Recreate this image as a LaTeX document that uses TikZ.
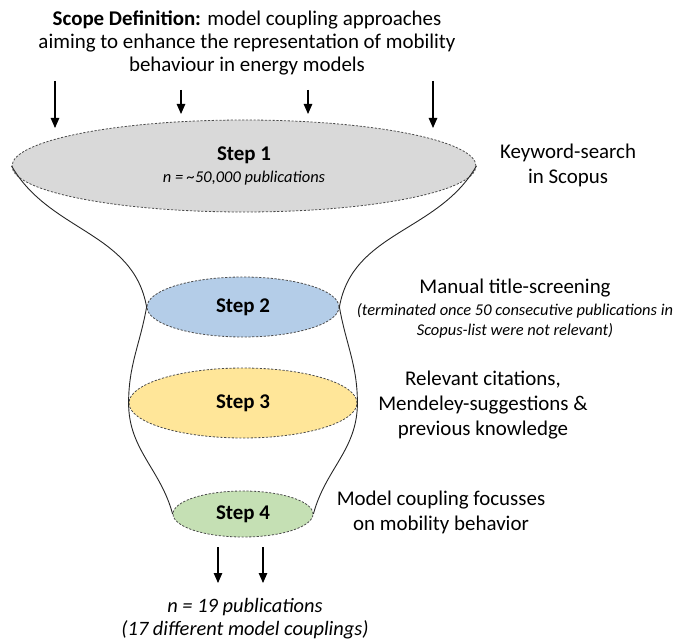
\documentclass[tikz,border=0pt]{standalone}
\usepackage{fontspec}
\setmainfont{Carlito}
\usepackage{xcolor}
\usepackage{tikz}
\usetikzlibrary{arrows.meta,shapes.geometric}

\definecolor{stepgrey}{HTML}{D9D9D9}
\definecolor{stepblue}{HTML}{B4CDE8}
\definecolor{stepgold}{HTML}{FFE699}
\definecolor{stepgreen}{HTML}{C5E0B4}

\begin{document}
\begin{tikzpicture}[
    x=1bp, y=1bp,
    stepdisc/.style={ellipse, draw=black!70, dash pattern=on 2.2bp off 1.6bp,
        line width=0.8bp, inner sep=0pt},
    funnel/.style={draw=black!85, line width=0.9bp},
    down/.style={-{Triangle[width=8.5bp,length=10bp]}, line width=1.1bp},
    every node/.style={font=\fontsize{21}{25}\selectfont, align=center}
]
    \useasboundingbox (0,0) rectangle (679,-641);

    \node[font=\fontsize{21}{23.5}\selectfont] (scope) at (247,-43)
        {\textbf{Scope Definition:} model coupling approaches\\
         aiming to enhance the representation of mobility\\
         behaviour in energy models};

    % the four filter stages
    \node[stepdisc, fill=stepgrey, minimum width=464bp, minimum height=92bp] (s1) at (244,-166)
        {\textbf{Step 1}\\[-3bp]{\fontsize{16.5}{18}\selectfont\itshape n = \textasciitilde 50,000 publications}};
    \node[stepdisc, fill=stepblue, minimum width=192bp, minimum height=60bp] (s2) at (243,-307) {\textbf{Step 2}};
    \node[stepdisc, fill=stepgold, minimum width=228bp, minimum height=70bp] (s3) at (243,-403) {\textbf{Step 3}};
    \node[stepdisc, fill=stepgreen, minimum width=140bp, minimum height=46bp] (s4) at (243,-514) {\textbf{Step 4}};

    % funnel outline
    \draw[funnel] (s1.west) to[out=-60,in=100] (s2.west) to[out=-100,in=90] (s3.west)
        to[out=-90,in=105] (s4.west);
    \draw[funnel] (s1.east) to[out=-120,in=80] (s2.east) to[out=-80,in=90] (s3.east)
        to[out=-90,in=75] (s4.east);

    % inflow and outflow arrows
    \foreach \name/\x/\top/\tip in {a1/55/81/128, a2/181/90/114, a3/308/90/114, a4/433/81/128,
                                     b1/218/547/583, b2/263/547/583} {
        \coordinate (\name-top) at (\x,-\top);
        \coordinate (\name-tip) at (\x,-\tip);
        \draw[down] (\name-top) -- (\name-tip);
    }

    % stage descriptions
    \node (kw) at (568,-165) {Keyword-search\\in Scopus};
    \node (manual) at (515,-288) {Manual title-screening};
    \node[font=\fontsize{16.5}{20}\selectfont\itshape] (term) at (515,-321)
        {(terminated once 50 consecutive publications in\\Scopus-list were not relevant)};
    \node (cite) at (483,-405) {Relevant citations,\\Mendeley-suggestions \&\\previous knowledge};
    \node (focus) at (441,-512) {Model coupling focusses\\on mobility behavior};

    \node[font=\fontsize{20.5}{23}\selectfont\itshape] (result) at (245,-619)
        {n = 19 publications\\(17 different model couplings)};
\end{tikzpicture}
\end{document}
